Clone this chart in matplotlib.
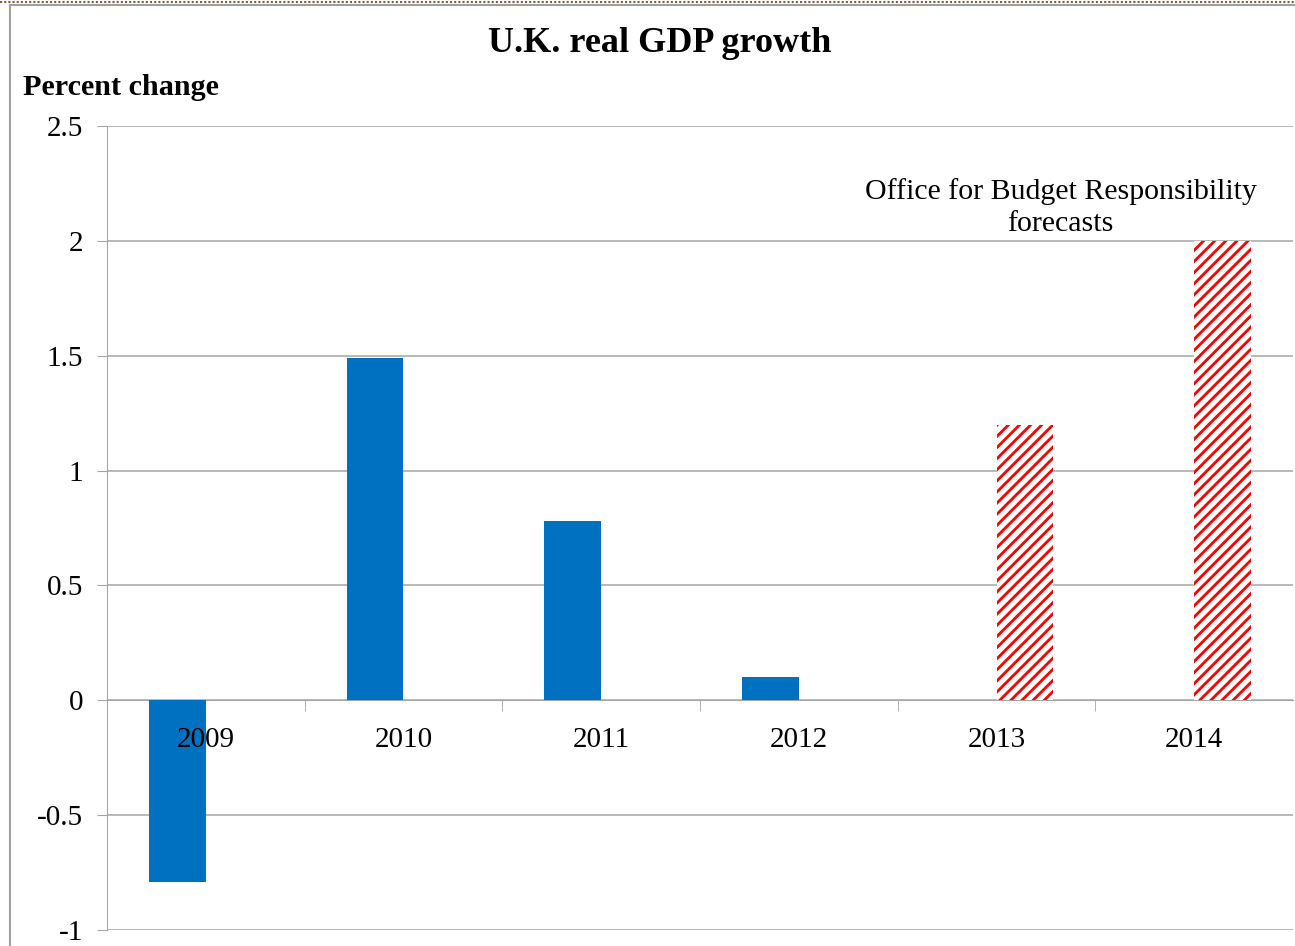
import matplotlib
matplotlib.use("Agg")
import matplotlib.pyplot as plt
from matplotlib.lines import Line2D
from matplotlib.ticker import FixedLocator

plt.rcParams['font.family'] = ['Liberation Serif', 'DejaVu Serif']
plt.rcParams['hatch.linewidth'] = 2.0
plt.rcParams['hatch.color'] = '#FF0000'

years = ['2009', '2010', '2011', '2012', '2013', '2014']
actual = [-0.79, 1.49, 0.78, 0.10, None, None]
forecast = [None, None, None, None, 1.20, 2.00]
yticks = [-1, -0.5, 0, 0.5, 1, 1.5, 2, 2.5]
ylabels = ['-1', '-0.5', '0', '0.5', '1', '1.5', '2', '2.5']

fig = plt.figure(figsize=(12.95, 9.46), dpi=100)
ax = fig.add_axes([0.0826, 0.0169, 0.9159, 0.8499])

x = list(range(len(years)))
w = 0.288
ax.bar([i - w / 2 for i, v in zip(x, actual) if v is not None],
       [v for v in actual if v is not None], width=w, color='#0070C0', zorder=2)
ax.bar([i + w / 2 for i, v in zip(x, forecast) if v is not None],
       [v for v in forecast if v is not None], width=w, color='white',
       edgecolor='#FF0000', linewidth=0, hatch='///', zorder=2)

ax.set_xlim(-0.5, 5.5)
ax.set_ylim(-1, 2.5)
ax.set_yticks(yticks)
ax.set_yticklabels(ylabels)
# gridlines kept under the bars, tick labels stay above them
ax.set_axisbelow(False)
for t in yticks:
    ax.axhline(t, color='#A6A6A6', linewidth=1.1, zorder=1)

ax.spines['top'].set_visible(False)
ax.spines['right'].set_visible(False)
ax.spines['left'].set_color('#A6A6A6')
ax.spines['left'].set_zorder(1)
ax.spines['bottom'].set_position(('data', 0))
ax.spines['bottom'].set_color('#A6A6A6')
ax.spines['bottom'].set_zorder(1)

ax.set_xticks(x)
ax.set_xticklabels(years)
ax.xaxis.set_minor_locator(FixedLocator([0.5, 1.5, 2.5, 3.5, 4.5]))
ax.tick_params(axis='x', which='major', length=0, pad=19, labelsize=21)
ax.tick_params(axis='x', which='minor', length=8, color='#A6A6A6', direction='out')
ax.tick_params(axis='y', length=7, color='#A6A6A6', labelsize=21, pad=10)

ax.text(4.325, 2.147, 'Office for Budget Responsibility\nforecasts', ha='center',
        va='center', fontsize=21.5, linespacing=1.3)

fig.text(0.5097, 0.9535, 'U.K. real GDP growth', ha='center', va='center',
         fontsize=26, fontweight='bold')
fig.text(0.0178, 0.907, 'Percent change', ha='left', va='center',
         fontsize=21.7, fontweight='bold')

# outer frame of the chart
fig.add_artist(Line2D([0.008, 0.008], [0, 0.995], color='#A0A0A0', linewidth=1.5))
fig.add_artist(Line2D([0.008, 1], [0.995, 0.995], color='#A0A0A0', linewidth=1.5))
fig.add_artist(Line2D([0, 1], [0.9975, 0.9975], color='#7F6030', linewidth=1.5,
                      linestyle=(0, (1, 1))))

fig.savefig('out.png', dpi=100)
